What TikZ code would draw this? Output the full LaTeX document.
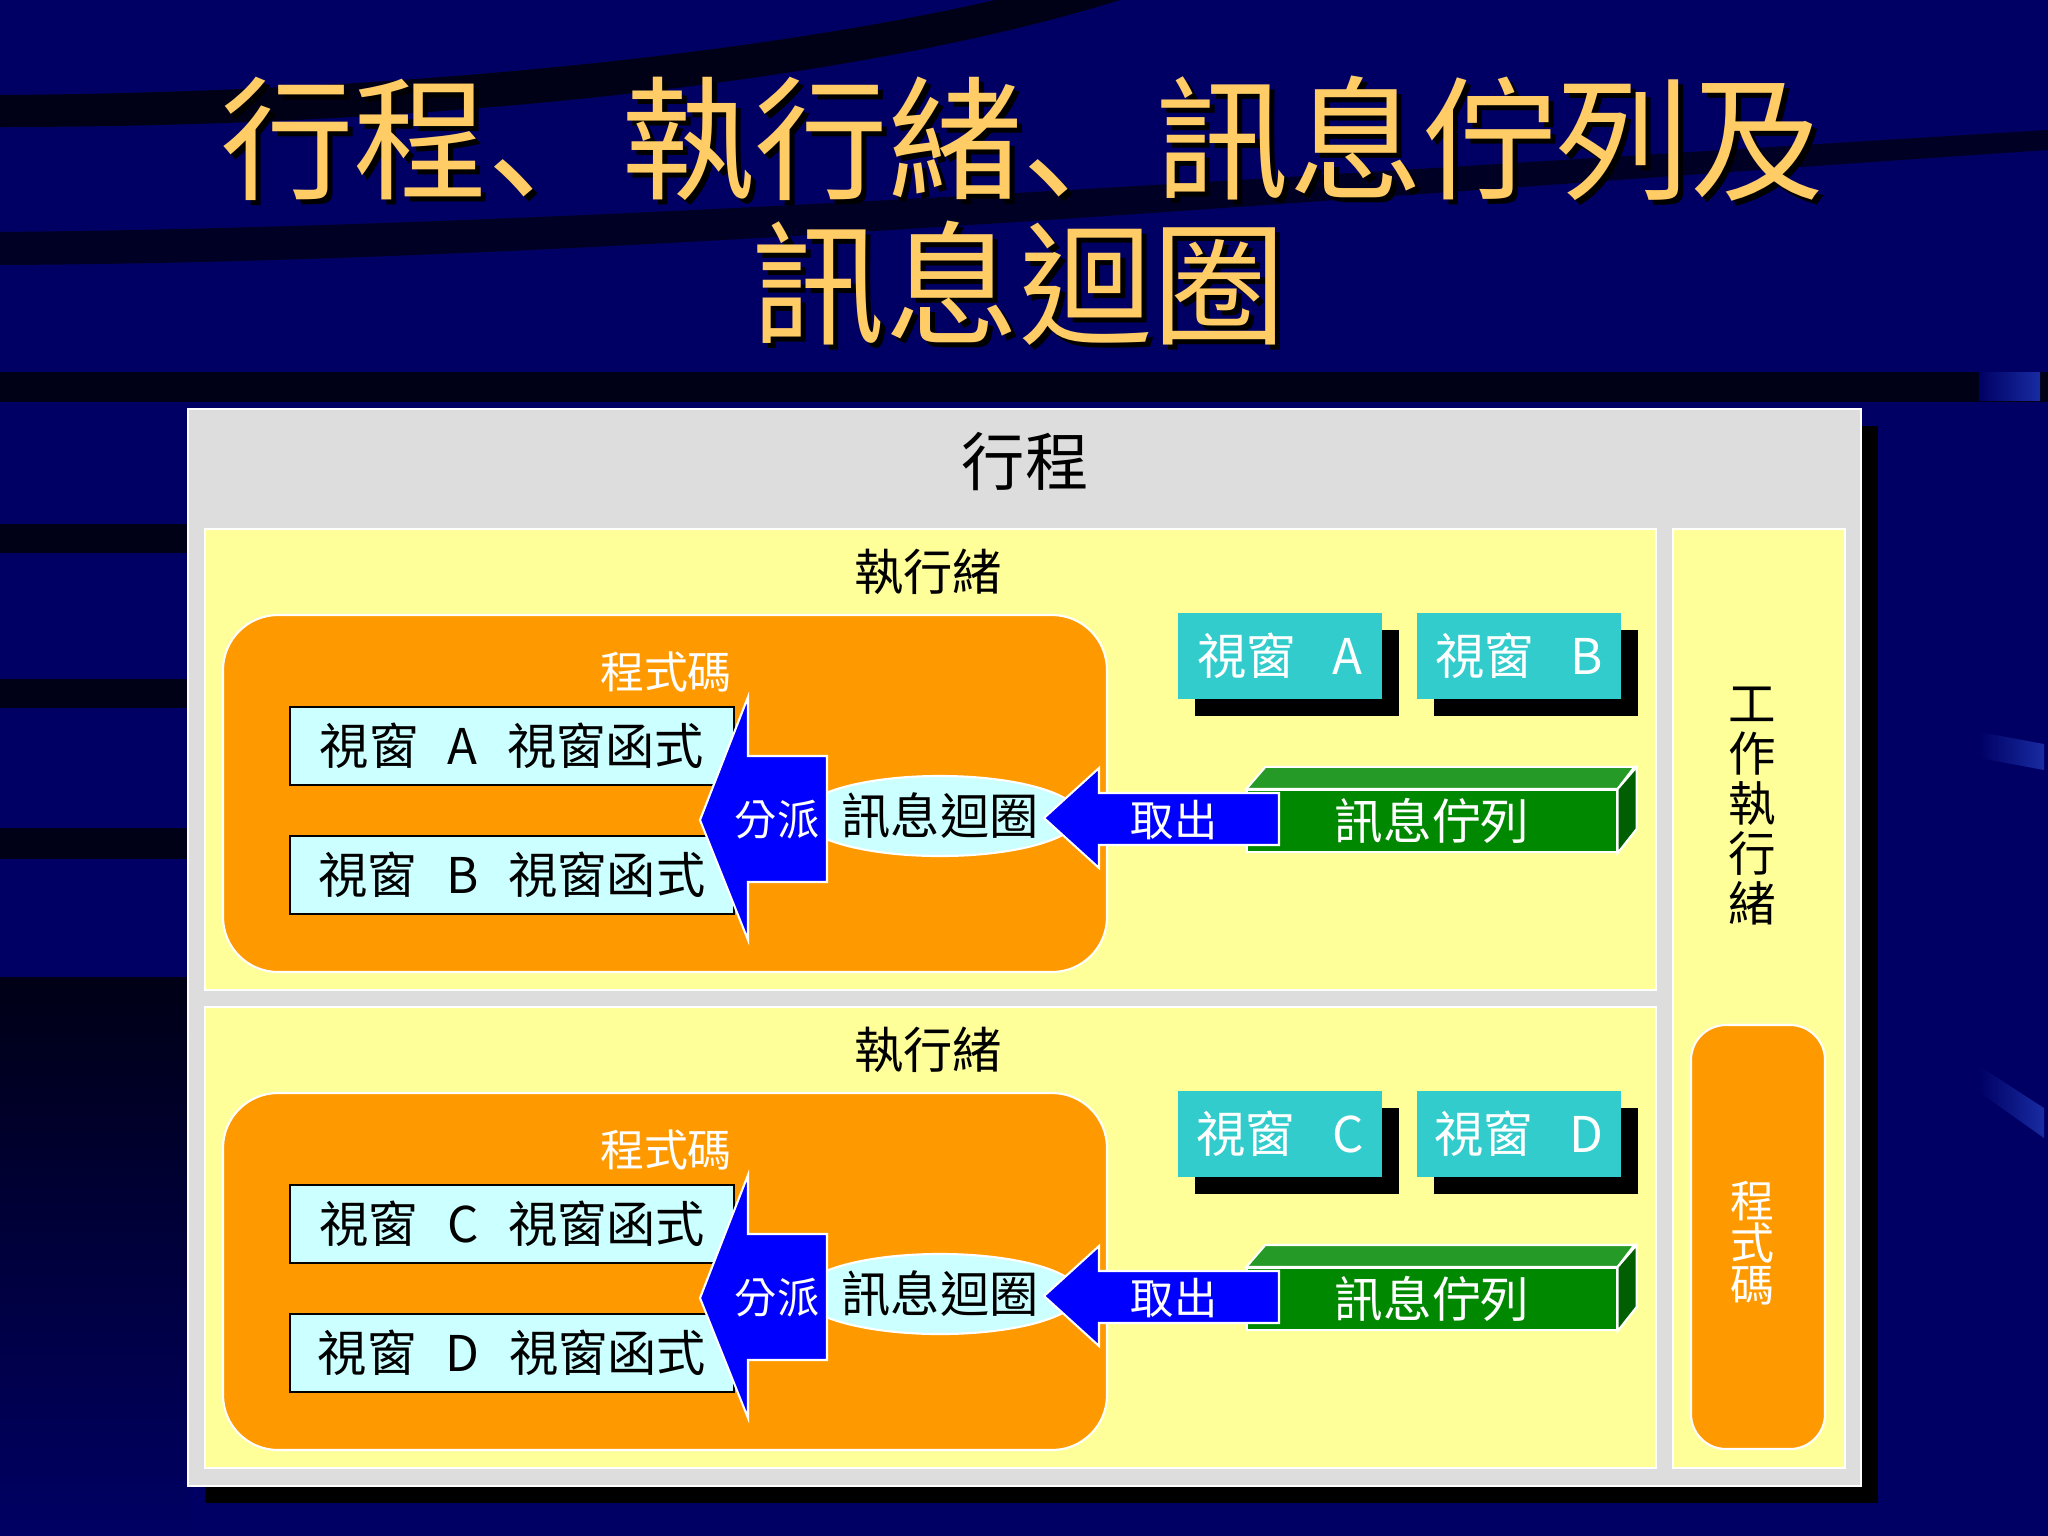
\documentclass[tikz,border=0pt]{standalone}
\usepackage{fontspec}
\setmainfont{Noto Sans CJK TC}
\newfontfamily\jpfont{Noto Sans CJK JP}
\usepackage{xcolor}
\usetikzlibrary{shapes.geometric}
\definecolor{navy}{RGB}{0,0,100}
\definecolor{band}{RGB}{0,0,22}
\definecolor{titleyellow}{RGB}{255,204,102}
\definecolor{procgray}{RGB}{221,221,221}
\definecolor{threadyellow}{RGB}{255,255,153}
\definecolor{codeorange}{RGB}{255,153,0}
\definecolor{funccyan}{RGB}{204,255,255}
\definecolor{winteal}{RGB}{51,204,204}
\definecolor{queuegreen}{RGB}{0,136,0}
\definecolor{streakblue}{RGB}{60,110,255}
\newcommand\sz[2]{\fontsize{#1}{#2}\selectfont}
\newcommand\dun{{\jpfont 、}}
\tikzset{
	threadbox/.style={fill=threadyellow, draw=white, line width=0.6pt},
	codebox/.style={fill=codeorange, draw=white, line width=0.6pt, rounded corners=0.55cm},
	funcbox/.style={fill=funccyan, draw=black, line width=0.7pt, minimum width=4.44cm, minimum height=0.78cm, inner sep=0pt, font=\sz{14}{16}},
	winbox/.style={fill=winteal, text=white, minimum width=2.04cm, minimum height=0.85cm, inner sep=0pt, font=\sz{14}{16}},
	winshadow/.style={fill=black, minimum width=2.04cm, minimum height=0.85cm, inner sep=0pt},
	bigarrow/.style={fill=blue, draw=white, line width=0.6pt},
	greenface/.style={draw=white, line width=0.6pt},
}

\begin{document}
\begin{tikzpicture}[x=0.01cm, y=-0.01cm]
	\useasboundingbox (0,0) rectangle (2048,1536);
	\fill[navy] (0,0) rectangle (2048,1536);
	\fill[band] (0,95) .. controls (450,92) and (800,45) .. (995,0) -- (1120,0) .. controls (880,75) and (470,127) .. (0,127) -- cycle;
	\fill[band, opacity=0.8] (0,232) .. controls (600,226) and (1300,175) .. (2048,130) -- (2048,150) .. controls (1300,200) and (600,262) .. (0,265) -- cycle;
	\fill[band] (0,372) rectangle (2048,402);
	\fill[band] (0,524) rectangle (190,553);
	\fill[band] (0,679) rectangle (190,708);
	\fill[band] (0,828) rectangle (190,859);
	\shade[top color=band, bottom color=navy] (0,977) rectangle (190,1536);
	\shade[left color=navy, middle color=streakblue, right color=navy!60!streakblue] (1979,372) rectangle (2040,400);
	\shade[left color=navy, middle color=streakblue, right color=navy!60!streakblue] (1979,732) -- (2044,744) -- (2044,770) -- (1979,758) -- cycle;
	\shade[left color=navy, middle color=streakblue, right color=navy!60!streakblue] (1979,1066) -- (2044,1108) -- (2044,1138) -- (1979,1092) -- cycle;

	\node[text=black, font=\sz{38}{44}] (titleshadowa) at (1027,144) {行程\dun 執行緒\dun 訊息佇列及};
	\node[text=titleyellow, font=\sz{38}{44}] (titlea) at (1022,139) {行程\dun 執行緒\dun 訊息佇列及};
	\node[text=black, font=\sz{38}{44}] (titleshadowb) at (1024,288) {訊息迴圈};
	\node[text=titleyellow, font=\sz{38}{44}] (titleb) at (1019,283) {訊息迴圈};

	\fill[black] (205,426) rectangle (1878,1503);
	\filldraw[fill=procgray, draw=white, line width=0.6pt] (188,409) rectangle (1861,1486);
	\node[font=\sz{18}{20}] (process) at (1025,462) {行程};

	\foreach \dy/\wa/\wb in {0/A/B, 478/C/D} {
		\begin{scope}[shift={(0,\dy)}]
			\filldraw[threadbox] (205,529) rectangle (1656,990);
			\node[font=\sz{14}{16}] (thread\wa) at (928,572) {執行緒};
			\filldraw[codebox] (223,615) rectangle (1107,972);
			\node[text=white, font=\sz{12.5}{14}] (code\wa) at (666,672) {程式碼};
			\node[funcbox] (func\wa) at (512,746) {視窗\hspace{0.6em}\wa\hspace{0.6em}視窗函式};
			\node[funcbox] (func\wb) at (512,875) {視窗\hspace{0.6em}\wb\hspace{0.6em}視窗函式};
			\node[ellipse, fill=funccyan, draw=white, line width=0.6pt, minimum width=2.5cm, minimum height=0.8cm, inner sep=0pt, font=\sz{14}{16}] (loop\wa) at (940,816) {訊息迴圈};
			\filldraw[bigarrow] (700,820) -- (748,697) -- (748,756) -- (827,756) -- (827,882) -- (748,882) -- (748,940) -- cycle;
			\node[text=white, font=\sz{12}{14}] (dispatch\wa) at (777,820) {分派};
			\node[winshadow] (winshadow\wa) at (1297,673) {};
			\node[winbox] (win\wa) at (1280,656) {視窗\hspace{0.75em}\wa};
			\node[winshadow] (winshadow\wb) at (1536,673) {};
			\node[winbox] (win\wb) at (1519,656) {視窗\hspace{0.75em}\wb};
			\node[fill=queuegreen, greenface, minimum width=3.69cm, minimum height=0.62cm, inner sep=0pt, text=white, font=\sz{13.8}{16}] (queue\wa) at (1432,821) {訊息佇列};
			\filldraw[greenface, fill=queuegreen!85!white] (queue\wa.north west) -- ++(19,-22) -- ++(369,0) -- (queue\wa.north east) -- cycle;
			\filldraw[greenface, fill=queuegreen!70!black] (queue\wa.north east) -- ++(19,-22) -- ++(0,62) -- (queue\wa.south east) -- cycle;
			\filldraw[bigarrow] (1044,818) -- (1099,768) -- (1099,793) -- (1279,793) -- (1279,845) -- (1099,845) -- (1099,868) -- cycle;
			\node[text=white, font=\sz{12.3}{14}] (fetch\wa) at (1174,820) {取出};
		\end{scope}
	}

	\filldraw[threadbox] (1673,529) rectangle (1845,1468);
	\node[align=center, font=\sz{13.5}{14.2}] (worker) at (1752,806) {工\\作\\執\\行\\緒};
	\filldraw[codebox, rounded corners=0.35cm] (1691,1025) rectangle (1825,1449);
	\node[align=center, text=white, font=\sz{12.5}{12}] (workercode) at (1752,1243) {程\\式\\碼};
\end{tikzpicture}
\end{document}
